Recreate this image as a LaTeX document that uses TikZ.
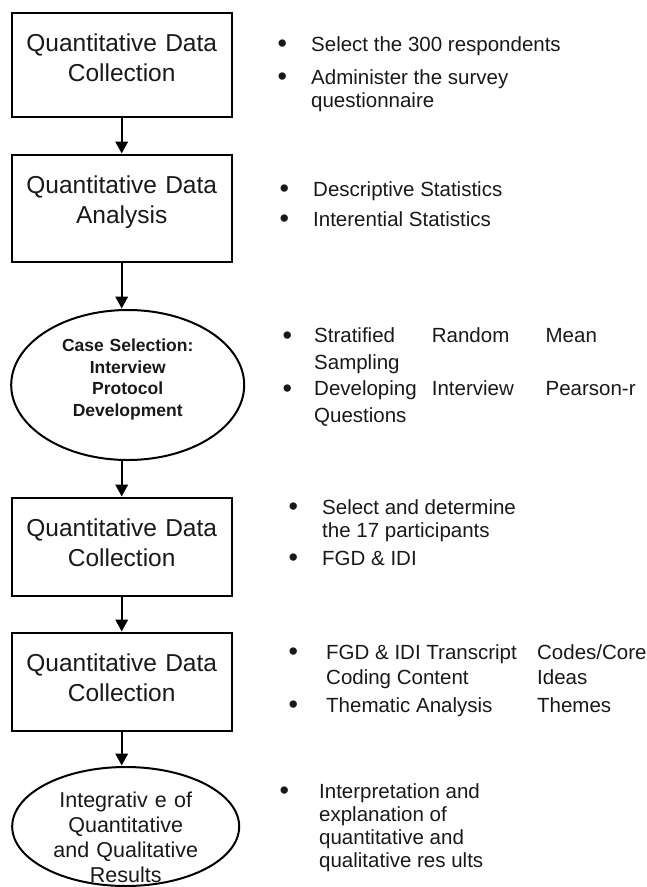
\documentclass[tikz,border=0pt]{standalone}
\usepackage{fontspec}
\setmainfont{Liberation Sans}
\usetikzlibrary{shapes.geometric, arrows.meta, positioning}

\newcommand{\bul}[1]{\makebox[#1][l]{\raisebox{-1.5pt}{\fontsize{27}{23}\selectfont •}}}
\newcommand{\gap}[1]{\hspace*{#1}}

\begin{document}
\begin{tikzpicture}[x=1pt, y=1pt,
  stage/.style={draw, line width=2.3pt, outer sep=0pt, text width=215pt, align=center, inner xsep=2.5pt, inner ysep=0pt, text height=38pt, font=\fontsize{24.5}{30}\selectfont, text=black!90},
  oval/.style={draw, ellipse, line width=2pt, outer sep=0pt, inner sep=0pt, align=center, text=black!90},
  flow/.style={line width=2pt, -{Triangle[length=12pt, width=12.5pt]}, shorten >=1.5pt},
  notes/.style={anchor=north west, inner sep=0pt, align=left, text=black!90, font=\fontsize{20.5}{23}\selectfont}]

  \useasboundingbox (0,0) rectangle (647,-887);

  % left column: stages
  \node[stage, text depth=66pt, anchor=north] (qdc1) at (121.7,-13.3) {Quantitative Data\\Collection};
  \node[stage, text depth=69pt, below=37.7pt of qdc1] (qda) {Quantitative Data\\Analysis};
  \node[oval, minimum width=233pt, minimum height=150pt, text width=140pt, text height=12pt, text depth=79.4pt,
        font=\bfseries\fontsize{17.5}{21.7}\selectfont, below=48pt of qda, xshift=6pt] (case)
        {Case Selection:\\Interview\\Protocol\\Development};
  \node[stage, text depth=60pt, below=38pt of case, xshift=-6pt] (qdc2) {Quantitative Data\\Collection};
  \node[stage, text depth=60pt, below=37pt of qdc2] (qdc3) {Quantitative Data\\Collection};
  \node[oval, minimum width=227pt, minimum height=119pt, text width=155pt, text height=10pt, text depth=47.6pt,
        font=\fontsize{21.5}{25}\selectfont, below=36pt of qdc3, xshift=4pt] (integ)
        {Integrativ e of\\Quantitative\\and Qualitative\\Results};

  % arrows
  \draw[flow] (qdc1) -- (qda);
  \draw[flow] (qda.south) -- (qda.south |- case.north);
  \draw[flow] (case.south -| qdc2.north) -- (qdc2.north);
  \draw[flow] (qdc2) -- (qdc3);
  \draw[flow] (qdc3.south) -- (qdc3.south |- integ.north);

  % right column: notes
  \node[notes] (n1) at (277.4,-36.3)
    {\bul{33.6pt}Select the 300 respondents\\[10pt]\bul{33.6pt}Administer the survey\\\gap{33.6pt}questionnaire};
  \node[notes] (n2) at (279.4,-181.3)
    {\bul{33.6pt}Descriptive Statistics\\[7pt]\bul{33.6pt}Interential Statistics};
  \node[notes, font=\fontsize{20.5}{26.5}\selectfont] (n3) at (282.4,-327.8)
    {\bul{31.6pt}\makebox[117.7pt][l]{Stratified}\makebox[113.8pt][l]{Random}Mean\\\gap{31.6pt}Sampling\\
     \bul{31.6pt}\makebox[117.7pt][l]{Developing}\makebox[113.8pt][l]{Interview}Pearson-r\\\gap{31.6pt}Questions};
  \node[notes] (n4) at (288.4,-499.3)
    {\bul{33.6pt}Select and determine\\\gap{33.6pt}the 17 participants\\[5pt]\bul{33.6pt}FGD \& IDI};
  \node[notes, font=\fontsize{20.5}{25}\selectfont] (n5) at (288.4,-644.3)
    {\bul{37.6pt}\makebox[211pt][l]{FGD \& IDI Transcript}Codes/Core\\\gap{37.6pt}\makebox[211pt][l]{Coding Content}Ideas\\[3pt]
     \bul{37.6pt}\makebox[211pt][l]{Thematic Analysis}Themes};
  \node[notes] (n6) at (279.4,-783)
    {\bul{39.6pt}Interpretation and\\\gap{39.6pt}explanation of\\\gap{39.6pt}quantitative and\\\gap{39.6pt}qualitative res ults};
\end{tikzpicture}
\end{document}
